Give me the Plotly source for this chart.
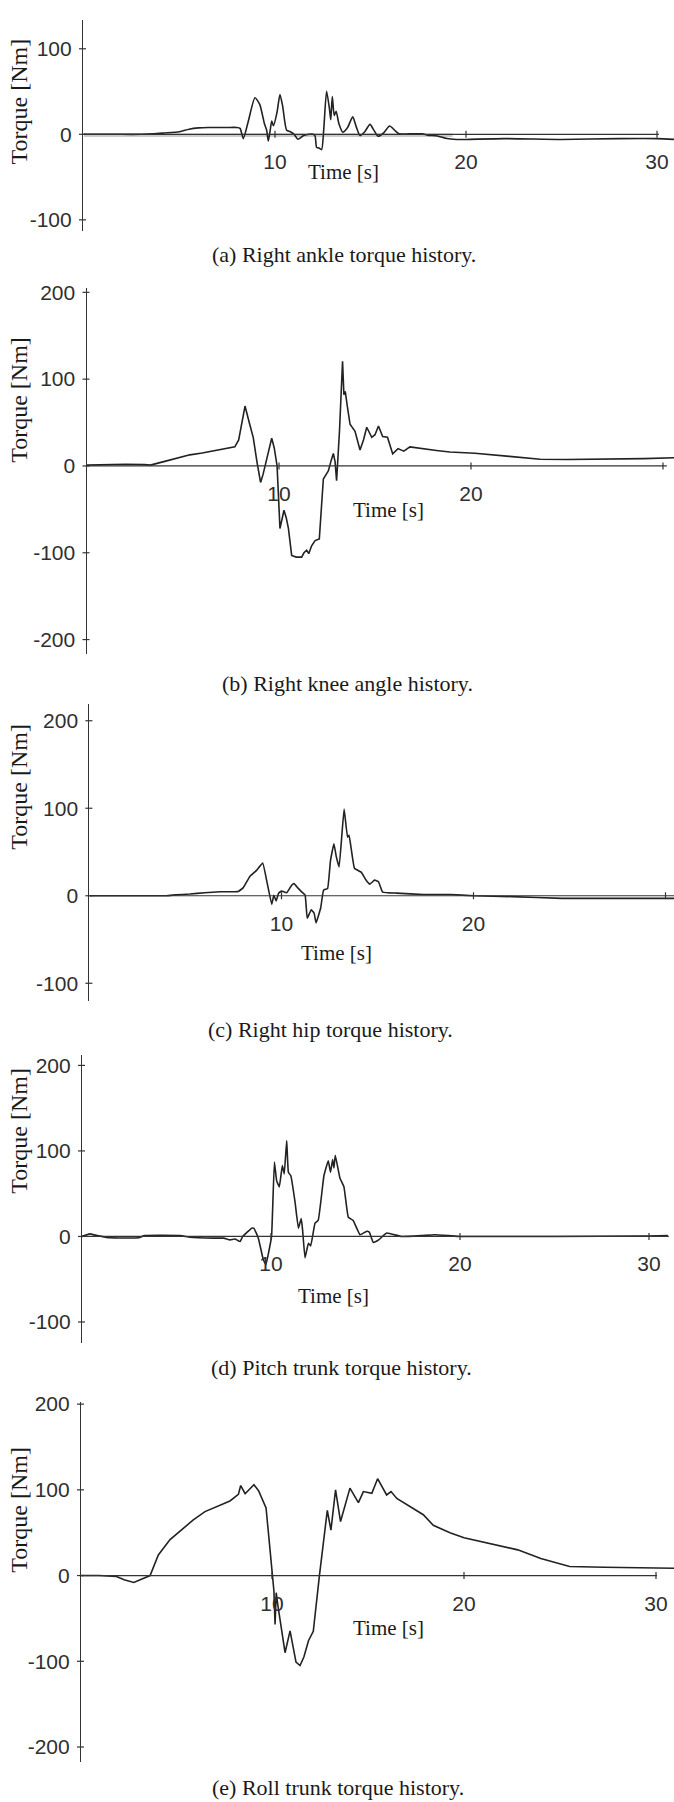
import plotly.graph_objects as go

W, H = 674, 1802

# ---------------- data (time [s], torque [Nm]) ----------------
A_T = [0, 1, 2, 3, 3.6, 4.2, 5.0, 5.5, 6.0, 6.5, 7.0, 7.5, 8.0, 8.17, 8.34, 8.6, 8.95, 9.2, 9.45, 9.56,
       9.65, 9.75, 9.83, 9.92, 10.1, 10.26, 10.4, 10.61, 10.8, 11.0, 11.2, 11.5, 11.8, 12.0, 12.1, 12.18,
       12.3, 12.44, 12.55, 12.7, 12.85, 12.92, 13.0, 13.1, 13.2, 13.35, 13.55, 13.8, 14.07, 14.25, 14.45,
       14.7, 14.97, 15.2, 15.4, 15.7, 16.0, 16.3, 16.5, 17.0, 17.7, 18.0, 18.5, 19.0, 19.5, 20, 22, 25,
       28, 30, 30.9]
A_V = [0, 0, 0, 0, 0.5, 1.5, 3, 6, 7.5, 8, 8, 8, 8, 7, -5, 15, 42.7, 35, 12, 5,
       -7.8, 5, 15.5, 10, 25, 46.5, 33, 4.7, 3, 0, -5.8, -1.5, 0, 0, -2, -15.5,
       -16, -18, 5, 50.4, 30, 17, 44, 22, 27, 12, 2.5, 8, 20.5, 9, -1.5,
       3, 11.6, 4, -2.3, 2, 9.7, 4, 0.5, 0.5, 0.5, -1, -2, -5, -6, -6, -5, -6,
       -5, -5, -6]
# faint grey companion trace in panel (a)
G_T = [0, 4, 8, 12, 16, 19.3]
G_V = [-1, -1, -1, -1, -1, -1]

B_T = [0, 1, 2, 3, 3.3, 4, 5, 5.36, 6, 7, 7.7, 7.9, 8.23, 8.45, 8.66, 8.85, 9.04, 9.17, 9.4, 9.62,
       9.75, 9.9, 10.05, 10.15, 10.26, 10.38, 10.49, 10.66, 10.9, 11.18, 11.3, 11.44, 11.55, 11.7, 11.88,
       12.1, 12.2, 12.31, 12.45, 12.57, 12.7, 12.83, 12.92, 13.0, 13.15, 13.31, 13.38, 13.45, 13.55,
       13.7, 13.96, 14.22, 14.4, 14.57, 14.83, 15.0, 15.18, 15.4, 15.65, 15.92, 16.2, 16.5, 16.82,
       17.5, 18.2, 18.9, 20.2, 22, 23.6, 25, 27, 29, 30.7]
B_V = [1, 1.5, 2, 1.5, 1, 5, 11, 12.8, 15, 19, 22, 30, 69, 50, 32.6, 5, -19, -9.7, 12, 31.9,
       21, 0, -72, -60, -51, -60, -72, -103, -105, -105, -100, -97, -101, -92, -86,
       -84, -50, -15, -10, -5.7, 5, 14.3, 5, -17, 40, 120.5, 82, 86, 70,
       48, 40, 18.3, 30, 44.6, 33, 36, 46, 34, 33, 14, 20, 17, 22,
       19.7, 17.8, 16, 14.7, 11, 7.8, 7.5, 7.8, 8.5, 9.5]

C_T = [0, 2, 4, 4.5, 5.23, 6, 6.8, 7.75, 8.0, 8.36, 8.7, 9.02, 9.25, 9.49, 9.6, 9.72, 9.85, 10.0,
       10.27, 10.53, 10.65, 10.85, 11.05, 11.23, 11.34, 11.55, 11.7, 11.8, 12.04, 12.19, 12.4, 12.55,
       12.73, 12.85, 13.0, 13.26, 13.44, 13.52, 13.8, 14.15, 14.4, 14.6, 14.85, 15.05, 15.27, 16.0,
       17.4, 18.8, 20, 22, 24.6, 27, 30, 30.9]
C_V = [0, 0, 0, 1, 2, 3.5, 4.5, 5, 9, 22.4, 29, 37.5, 15, -9.8, 0.5, -6, 3, 5.3,
       3.4, 12, 14, 9, 4.5, 0.8, -25.7, -16, -20, -31, -14, 6.4, 8.3, 40,
       59.5, 45, 33, 99, 67, 69, 31.4, 27, 18, 13.3, 18, 16, 4.2, 3,
       1.5, 1.5, 0, -1, -3, -3, -3, -3]

D_T = [0, 0.4, 0.8, 1.5, 3.0, 3.3, 5.2, 5.71, 7.0, 7.5, 7.83, 8.1, 8.36, 8.5, 8.98, 9.1, 9.33, 9.59,
       9.73, 9.89, 10.03, 10.18, 10.3, 10.44, 10.6, 10.7, 10.83, 10.92, 11.05, 11.27, 11.45, 11.6,
       11.67, 11.8, 11.98, 12.1, 12.33, 12.5, 12.8, 13.03, 13.15, 13.26, 13.33, 13.4, 13.65, 13.86,
       14.09, 14.35, 14.71, 15.06, 15.2, 15.41, 15.7, 16.12, 16.9, 17.95, 18.65, 19.4, 20, 25, 30, 31]
D_V = [0, 3, 1, -1.5, -1.5, 1, 1, -1, -2, -2, -4, -3, -6, 0, 9.7, 9.5, -2, -27,
       -33, -17, 0, 87, 65, 58, 83, 73, 112, 75, 71, 40.6, 9.7, 21,
       8, -25, -8, -11, 15.5, 19, 71, 88.6, 75, 90, 80, 95, 68, 58,
       22.5, 18.6, 2, 6, 5, -7, -4, 4, 0, 1, 2, 1, 0, 0, 0.5, 1]

E_T = [0, 1, 1.9, 2.3, 2.8, 3.3, 3.65, 4.08, 4.69, 5.38, 5.9, 6.51, 7.29, 7.81, 8.25, 8.37, 8.6,
       9.06, 9.3, 9.69, 9.84, 10.02, 10.1, 10.16, 10.22, 10.3, 10.5, 10.68, 10.94, 11.25, 11.46,
       11.66, 11.9, 12.15, 12.47, 12.8, 12.88, 13.07, 13.31, 13.57, 13.8, 14.06, 14.5, 14.76, 15.2,
       15.5, 15.97, 16.2, 16.5, 17.19, 17.88, 18.4, 19.27, 20.0, 21.7, 22.8, 24.0, 25.1, 25.5,
       27.3, 29, 30.95]
E_V = [0, 0, -1, -5, -8, -3, 0, 24, 42, 55, 65, 74.6, 82, 87, 94.7, 105, 95.5,
       106, 99, 79, 43.7, 0, -18, -57, -20, -34, -61, -90, -64.6, -101, -105,
       -95, -76, -65, 0, 67, 76, 53, 100, 63, 80, 102, 85, 98, 96,
       113, 94, 98, 90, 80.7, 71, 58.7, 50, 44, 36, 30, 20, 12.5, 10.5,
       9.7, 9, 8.5]

X_TICKS = [10, 20, 30]
Y_TICKS_A = [100, 0, -100]
Y_TICKS_B = [200, 100, 0, -100, -200]
Y_TICKS_C = [200, 100, 0, -100]
Y_TICKS_D = [200, 100, 0, -100]
Y_TICKS_E = [200, 100, 0, -100, -200]

CAPTIONS = ["(a) Right ankle torque history.",
            "(b) Right knee angle history.",
            "(c) Right hip torque history.",
            "(d) Pitch trunk torque history.",
            "(e) Roll trunk torque history."]
X_TITLE = "Time [s]"
Y_TITLE = "Torque [Nm]"

# ---------------- layout geometry (pixels) ----------------
panels = [
    dict(t=A_T, v=A_V, yt=Y_TICKS_A, ax=83, x0=84, pps=19.1, top=10, bot=222, zero=125, ppu=0.86,
         bend=30.1, time=(343, 163), cap=(344, 246), ytc=92, smooth=0.6),
    dict(t=B_T, v=B_V, yt=Y_TICKS_B, ax=86.5, x0=87, pps=19.2, top=280, bot=648, zero=458.5, ppu=0.873,
         bend=30.2, time=(388, 503), cap=(348, 677), ytc=392, smooth=0),
    dict(t=C_T, v=C_V, yt=Y_TICKS_C, ax=89.4, x0=89.5, pps=19.2, top=698, bot=997, zero=890.7, ppu=0.88,
         bend=40, time=(336, 948), cap=(330, 1025), ytc=781, smooth=0.3),
    dict(t=D_T, v=D_V, yt=Y_TICKS_D, ax=82, x0=82, pps=18.9, top=1051, bot=1340, zero=1233.3, ppu=0.86,
         bend=31.05, time=(333, 1293), cap=(341, 1365), ytc=1127, smooth=0.3),
    dict(t=E_T, v=E_V, yt=Y_TICKS_E, ax=81, x0=80, pps=19.2, top=1400, bot=1762, zero=1574.3, ppu=0.862,
         bend=30.05, time=(388, 1627), cap=(338, 1787), ytc=1508, smooth=0),
]

TICK_FONT = dict(family="Liberation Sans Narrow, Liberation Sans, Arial Narrow, sans-serif",
                 size=21, color="#2f2f2f")
SERIF = "Liberation Serif, Times New Roman, serif"
AXC = "#333333"
LINE_C = "#222222"


def px(xp):
    return xp / W


def py(yp):
    return 1 - yp / H


fig = go.Figure()
layout = {}
shapes = []
annotations = []

for i, p in enumerate(panels, start=1):
    xs = "" if i == 1 else str(i)
    xr = [(p["ax"] - p["x0"]) / p["pps"], (W - p["x0"]) / p["pps"]]
    yr = [(p["zero"] - p["bot"]) / p["ppu"], (p["zero"] - p["top"]) / p["ppu"]]

    if i == 1:
        fig.add_trace(go.Scatter(x=G_T, y=G_V, xaxis="x", yaxis="y", mode="lines",
                                 line=dict(color="#cbcbcb", width=3.5), hoverinfo="skip",
                                 showlegend=False))
    line = dict(color=LINE_C, width=1.6)
    if p["smooth"] > 0:
        line.update(shape="spline", smoothing=p["smooth"])
    fig.add_trace(go.Scatter(x=p["t"], y=p["v"], xaxis="x" + xs, yaxis="y" + xs, mode="lines",
                             line=line, showlegend=False))

    layout["xaxis" + xs] = dict(domain=[px(p["ax"]), 1], range=xr, anchor="free",
                                position=py(p["zero"]), showline=False, showgrid=False,
                                zeroline=False, ticks="", tickvals=X_TICKS,
                                ticktext=[str(v) for v in X_TICKS],
                                tickfont=TICK_FONT, ticklabelstandoff=13, fixedrange=True)
    layout["yaxis" + xs] = dict(domain=[py(p["bot"]), py(p["top"])], range=yr, anchor="x" + xs,
                                showline=True, linecolor=AXC, linewidth=1.2, showgrid=False,
                                zeroline=False, ticks="", tickvals=p["yt"],
                                ticktext=[str(v) for v in p["yt"]], tickfont=TICK_FONT,
                                ticklabelstandoff=6, fixedrange=True)

    # x baseline through zero
    shapes.append(dict(type="line", xref="x" + xs, yref="y" + xs, x0=xr[0], x1=min(p["bend"], xr[1]),
                       y0=0, y1=0, line=dict(color=AXC, width=1.2)))
    # crossing tick marks on y axis
    for tv in p["yt"]:
        yy = py(p["zero"] - tv * p["ppu"])
        shapes.append(dict(type="line", xref="paper", yref="paper", x0=px(p["ax"] - 4),
                           x1=px(p["ax"] + 3), y0=yy, y1=yy, line=dict(color=AXC, width=1.2)))
    # crossing tick marks on x baseline
    for tv in X_TICKS:
        xx = px(p["x0"] + tv * p["pps"])
        shapes.append(dict(type="line", xref="paper", yref="paper", x0=xx, x1=xx,
                           y0=py(p["zero"] - 3.5), y1=py(p["zero"] + 3.5),
                           line=dict(color=AXC, width=1.2)))

    annotations.append(dict(text=Y_TITLE, x=px(19), y=py(p["ytc"]), xref="paper", yref="paper",
                            textangle=-90, showarrow=False, xanchor="center", yanchor="middle",
                            font=dict(family=SERIF, size=24, color="#1a1a1a")))
    annotations.append(dict(text=X_TITLE, x=px(p["time"][0]), y=py(p["time"][1]), xref="paper",
                            yref="paper", showarrow=False, xanchor="center", yanchor="middle",
                            font=dict(family=SERIF, size=21, color="#1a1a1a")))
    annotations.append(dict(text=CAPTIONS[i - 1], x=px(p["cap"][0]), y=py(p["cap"][1]),
                            xref="paper", yref="paper", showarrow=False, xanchor="center",
                            yanchor="middle", font=dict(family=SERIF, size=22, color="#1a1a1a")))

fig.update_layout(width=W, height=H, margin=dict(l=0, r=0, t=0, b=0), paper_bgcolor="white",
                  plot_bgcolor="white", showlegend=False, shapes=shapes, annotations=annotations,
                  **layout)

fig.write_html("out.html", config={"displayModeBar": False})
